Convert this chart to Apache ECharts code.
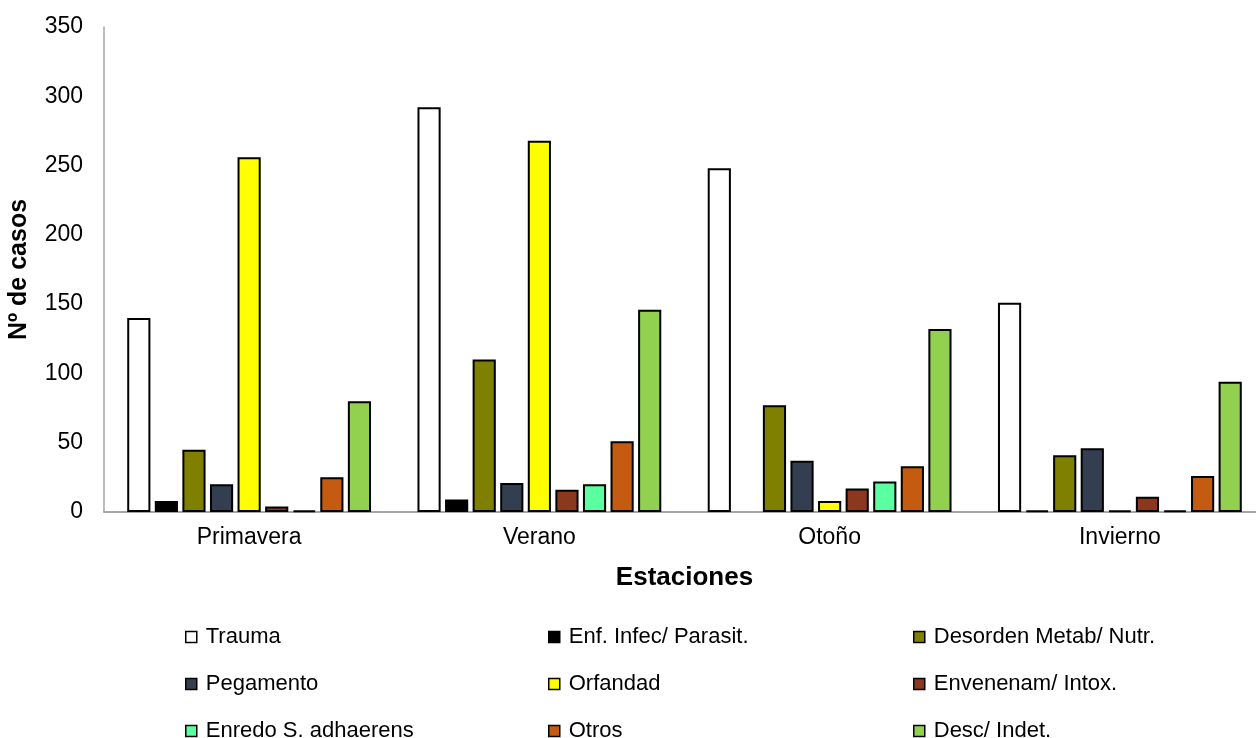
<!DOCTYPE html>
<html>
<head>
<meta charset="utf-8">
<script src="https://cdn.jsdelivr.net/npm/echarts@6/dist/echarts.min.js"></script>
<style>
  html, body { margin: 0; padding: 0; background: #fff; overflow: hidden; }
  #chart { width: 1270px; height: 738px; }
</style>
</head>
<body>
<div id="chart"></div>
<script>
// Seasons on the category axis
const estaciones = ['Primavera', 'Verano', 'Otoño', 'Invierno'];

// Number of cases per cause, one value per season
const trauma      = [140, 292, 248, 151];
const enfInfec    = [8, 9, 0, 1];
const desorden    = [45, 110, 77, 41];
const pegamento   = [20, 21, 37, 46];
const orfandad    = [256, 268, 8, 1];
const envenenam   = [4, 16, 17, 11];
const enredo      = [1, 20, 22, 1];
const otros       = [25, 51, 33, 26];
const descIndet   = [80, 146, 132, 94];

// Value axis range and step
const yTicks = { min: 0, max: 350, interval: 50 };

const seriesDefs = [
  { name: 'Trauma', data: trauma, color: '#ffffff' },
  { name: 'Enf. Infec/ Parasit.', data: enfInfec, color: '#000000' },
  { name: 'Desorden Metab/ Nutr.', data: desorden, color: '#808000' },
  { name: 'Pegamento', data: pegamento, color: '#333f50' },
  { name: 'Orfandad', data: orfandad, color: '#ffff00' },
  { name: 'Envenenam/ Intox.', data: envenenam, color: '#8b381e' },
  { name: 'Enredo S. adhaerens', data: enredo, color: '#5cffa0' },
  { name: 'Otros', data: otros, color: '#c55a11' },
  { name: 'Desc/ Indet.', data: descIndet, color: '#92d050' }
];

const font = '"Liberation Sans", Arial, sans-serif';

// Legend grid: three columns, three rows
const legendCols = [185, 548, 913];
const legendRows = [638, 685, 732];
const legendOrder = [
  ['Trauma', 'Enf. Infec/ Parasit.', 'Desorden Metab/ Nutr.'],
  ['Pegamento', 'Orfandad', 'Envenenam/ Intox.'],
  ['Enredo S. adhaerens', 'Otros', 'Desc/ Indet.']
];

const legends = [];
legendOrder.forEach((row, r) => {
  row.forEach((name, c) => {
    legends.push({
      data: [name],
      left: legendCols[c],
      top: legendRows[r] - 12,
      padding: 0,
      itemWidth: 11,
      itemHeight: 11,
      icon: 'rect',
      itemStyle: { borderWidth: 1.5, borderColor: '#000' },
      textStyle: { fontFamily: font, fontSize: 22, color: '#000', padding: [0, 0, 0, 4] },
      selectedMode: false
    });
  });
});

const chart = echarts.init(document.getElementById('chart'), null, { renderer: 'canvas' });

chart.setOption({
  backgroundColor: '#ffffff',
  animation: false,
  grid: { left: 104, top: 27, width: 1161, height: 485, containLabel: false, outerBoundsMode: 'none' },
  legend: legends,
  xAxis: {
    type: 'category',
    data: estaciones,
    name: 'Estaciones',
    nameLocation: 'middle',
    nameGap: 53,
    nameTextStyle: { fontFamily: font, fontSize: 26, fontWeight: 'bold', color: '#000' },
    axisLine: { lineStyle: { color: '#a6a6a6', width: 2 } },
    axisTick: { show: false },
    axisLabel: { fontFamily: font, fontSize: 23, color: '#000', margin: 14 }
  },
  yAxis: {
    type: 'value',
    min: yTicks.min,
    max: yTicks.max,
    interval: yTicks.interval,
    name: 'Nº de casos',
    nameLocation: 'middle',
    nameGap: 72,
    nameTextStyle: { fontFamily: font, fontSize: 25, fontWeight: 'bold', color: '#000' },
    axisLine: { show: true, lineStyle: { color: '#a6a6a6', width: 1.5 } },
    axisTick: { show: false },
    splitLine: { show: false },
    axisLabel: { fontFamily: font, fontSize: 23, color: '#000', margin: 21 }
  },
  series: seriesDefs.map(s => ({
    name: s.name,
    type: 'bar',
    data: s.data.map(v => (v === 0 ? { value: v, itemStyle: { borderWidth: 0 } } : v)),
    barGap: '19%',
    barCategoryGap: '16%',
    itemStyle: { color: s.color, borderColor: '#000', borderWidth: 2 },
    emphasis: { disabled: true }
  }))
});
</script>
</body>
</html>
